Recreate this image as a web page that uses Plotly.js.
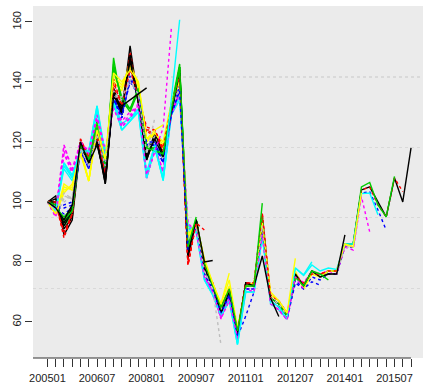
<!DOCTYPE html>
<html>
<head>
<meta charset="utf-8">
<script src="https://cdn.plot.ly/plotly-3.0.1.min.js"></script>
<style>
  html, body { margin: 0; padding: 0; background: #ffffff; }
  #chart { width: 423px; height: 385px; }
</style>
</head>
<body>
<div id="chart"></div>
<script>
// Quarterly periods (YYYYMM) covered by the index
const periods = [
  '200501','200504','200507','200510','200601','200604','200607','200610',
  '200701','200704','200707','200710','200801','200804','200807','200810',
  '200901','200904','200907','200910','201001','201004','201007','201010',
  '201101','201104','201107','201110','201201','201204','201207','201210',
  '201301','201304','201307','201310','201401','201404','201407','201410',
  '201501','201504','201507','201510','201601'
];
const tickLabels = ['200501','200607','200801','200907','201101','201207','201401','201507'];

// One series per data vintage, named by its last published quarter (base = 100)
const v201601 = [100,102,89,94,119,114,121,106,138,130,152,133,114,122,116,131,145,82,94,77,72,63,70,56,73,72,90,68,66,62,76,72,77,75,76,76,86,86,104,105,100,95,108,100,118];
const v201510 = [100,101,90,95,120,115,122,108,136,131,150,134,123,123,117,131,144,79,93,78,73,64,71,57,73,73,96,69,67,63,75,73,76,76,77,77,85,86,104,105,99,95,108,103.4];
const v201507 = [100,100,92,96,119,114,123,109,148,132,146,136,118,121,115,132,146,84,94,78,72,64,70,56,72,72,94,68,66,62,75,72,77,75,77,77,86,86,105,106.5,99,95,108.5];
const v201504 = [100,99,94,97,118,113,124,110,135,129,145,135,119,120,114,130,140,86,92,76,71,63,69,55,71,71,92,67,65,61,74,71,75,74,76,76,85,85,103,103.4,97.3,90.6];
const v201501 = [100,98,113,108,118,117,132,114,134,126,128,131,110,119,108,129,136,90,91,75,70,62,68,53,70,70,89,66,64,61,78,75.5,79,77,78,77.5,86,86,102.8,103,95.7];
const v201410 = [100,97,119,110,120,116,128,115,133,127,130,132,108,118,110,130,137,91,92,76,70,61,68,54,71,71,90,67,64,60.7,76,73,77,76,77,76,85,84,101.8,90];
const v201407 = [100,96,105,104,117,107,125,113,140,137,147,138,121,122,118,133,141,88,93,79,72,65,72,57,72,73,93,69,67,63,77,71,76,75,77,77,86,85,103];
const v201404 = [100,97,100,102,118,112,124,111,137,133,142,135,117,121,114,131,139,87,92,77,71,64,70,56,72,72,92,68,66,62,75,72,77,75,76,76,85,85];
const v201401 = [100,101,91,95,120,114,121,107,137,129,149,134,115,123,116,130,143,81,94,78,72,63,70,56,73,72,91,68,66,62,76,72,77,75,76,76,89];
const v201310 = [100,100,88,96,121,115,122,108,139,131,148,134,123,124,117,132,142,80,93,78,73,64,71,57,73,73,96,69,67,63,75,73,76,76,77,77];
const v201307 = [100,99,93,97,119,115,127,110,146,133,131,137,118,118,115,131,145,84,94,79,72,64,70,57,72,72,95,68,66,62,75,72,77,76,74];
const v201304 = [100,98,96,98,117,112,124,110,135,128,142,135,119,119,113,130,139,86,91,76,71,63,69,55,71,71,91,67,65,61,73,71,73.4,72.3];
const v201301 = [100,97,111,107,118,116,131,115,134,124,127,131,109,119,107,130,135,91,90,74,69,62,67,52.5,70,70,88,67,65,61,78,75.7,80];
const v201210 = [100,96,117,109,120,116,129,116,132,126,129,132,108,118,110,130,137,92,91,75,70,61.3,68,54,71,70,89,66,64,60.7,75,71];
const v201207 = [100,96,106,104,117,107,126,113,141,138,146,139,121,123,119,133,141,88,93,80,73,66,74,58,72,73,93,70,67,63,81.2];
const v201204 = [100,97,101,102,118,112,123,111,137,133,141,135,117,121,114,131,138,87,92,77,71,64,70,56,72,72,92,68,66,62];
const v201201 = [100,100,92,97,119,113,120,106,136,130,148,133,114,122,115,130,144,82,94,78,72,63,70,56,73,72,82,68,61.8];
const v201110 = [100,99,90,96,121,115,122,109,140,132,145,134,124,124,117,132,142,79,93,79,73,65,71,57,73,73,96.2,68];
const v201107 = [100,98,95,98,119,114,126,111,145,134,130,137,118,118,116,131,145,85,94,80,72,65,71,57,72,72,99.6];
const v201104 = [100,98,98,99,117,111,124,111,134,128,141,135,119,119,113,129,138,86,91,76,71,63,69,55,62,70];
const v201101 = [100,97,112,108,117,116,130,116,133,124,127,130,108,118,107.3,129,134,92,90,74,69,62,67,52.5,71];
const v201010 = [100,95,116,110,119,116,128,116,132,125,128,132,108,117,111,129,136,93,90,75,70,61.3,67,55];
const v201007 = [100,96,104,105,117,107,125,114,142,139,145,140,120,123,120,133,140,89,93,81,73,66,76.3];
const v201004 = [100,97,102,101,118,112,123,112,136,134,141,136,117,122,114,131,138,87,92,77,71,52.3];
const v201001 = [100,99,93,98,119,113,120,107,136,131,147,133,115,121,115,130,143,83,94,80,80.5];
const v200910 = [100,100,89,96,120,115,123,109,141,132,144,135,125,124,118,132,142,79,93,90.6];
const v200907 = [100,99,94,97,119,114,125,112,144,135,131,138,118,117,116,131,144,85,95];
const v200904 = [100,98,99,100,117,111,124,112,134,129,140,136,120,120,113,129,137,84];
const v200901 = [100,97,113,109,117,117,132,116,133,124,127,130,108,118,108,134,160.7];
const v200810 = [100,95,119,111,120,117,129,117,131,125,128,133,109,117,124.7,158];
const v200807 = [100,96,103,106,116,107,124,114,143,140,144,140,121,124,125.7];
const v200804 = [100,97,103,101,118,112,122,112,135,135,140,136,116,128];
const v200801 = [100,98,94,99,120,113,119,108,135,132,134,136,138];

const vintages = [
  v201601, v201510, v201507, v201504, v201501, v201410, v201407, v201404,
  v201401, v201310, v201307, v201304, v201301, v201210, v201207, v201204,
  v201201, v201110, v201107, v201104, v201101, v201010, v201007, v201004,
  v201001, v200910, v200907, v200904, v200901, v200810, v200807, v200804,
  v200801
];

// Dotted reference levels across the panel
const gridLevels = [71.2, 94.8, 118.1, 141.7];
const yTicks = [60, 80, 100, 120, 140, 160];

// Line styling cycles through the classic eight-colour palette, solid / dotted alternating
const palette = ['#000000', '#FF0000', '#00CD00', '#0000FF', '#00FFFF', '#FF00FF', '#FFFF00', '#BEBEBE'];
const dashes = ['solid', 'dot'];

const traces = vintages.map((vals, k) => ({
  type: 'scatter',
  mode: 'lines',
  x: periods.slice(0, vals.length),
  y: vals,
  line: { color: palette[k % palette.length], width: 1.4, dash: dashes[k % 2] },
  hoverinfo: 'skip',
  showlegend: false
}));

// Carrier for the overlaid grid axis
traces.push({
  type: 'scatter', mode: 'lines', x: [periods[0]], y: [null],
  yaxis: 'y2', hoverinfo: 'skip', showlegend: false
});

const xRange = [-1.75, 45.45];
const yRange = [48, 165.3];
const font = { family: 'Liberation Sans, Arial, sans-serif', size: 11, color: '#222222' };

const lastIdx = periods.length - 1;
const axisEnd = (lastIdx - xRange[0]) / (xRange[1] - xRange[0]);

const layout = {
  width: 423,
  height: 385,
  margin: { l: 33, r: 0, t: 6, b: 27, pad: 0 },
  paper_bgcolor: '#FFFFFF',
  plot_bgcolor: '#EBEBEB',
  font: font,
  xaxis: {
    type: 'category',
    range: xRange,
    tickmode: 'array',
    tickvals: periods,
    ticktext: periods.map(p => tickLabels.includes(p) ? p : ''),
    ticks: 'outside',
    ticklen: 8,
    tickwidth: 1,
    tickcolor: '#333333',
    tickangle: 0,
    tickfont: font,
    ticklabelstandoff: 2,
    showgrid: false,
    zeroline: false,
    showline: false
  },
  yaxis: {
    range: yRange,
    tickmode: 'array',
    tickvals: yTicks,
    ticktext: yTicks.map(String),
    ticks: 'outside',
    ticklen: 7,
    tickwidth: 1,
    tickcolor: '#333333',
    tickangle: -90,
    tickfont: font,
    showgrid: false,
    zeroline: false,
    showline: false
  },
  yaxis2: {
    overlaying: 'y',
    range: yRange,
    tickmode: 'array',
    tickvals: gridLevels,
    showticklabels: false,
    ticks: '',
    showgrid: true,
    gridcolor: '#D9D9D9',
    gridwidth: 1.5,
    griddash: '3px,3px',
    zeroline: false,
    showline: false
  },
  shapes: [{
    type: 'line', xref: 'paper', yref: 'paper',
    x0: 0, x1: axisEnd, y0: 0, y1: 0,
    line: { color: '#333333', width: 1 }
  }]
};

Plotly.newPlot('chart', traces, layout, { displayModeBar: false, staticPlot: true });
</script>
</body>
</html>
